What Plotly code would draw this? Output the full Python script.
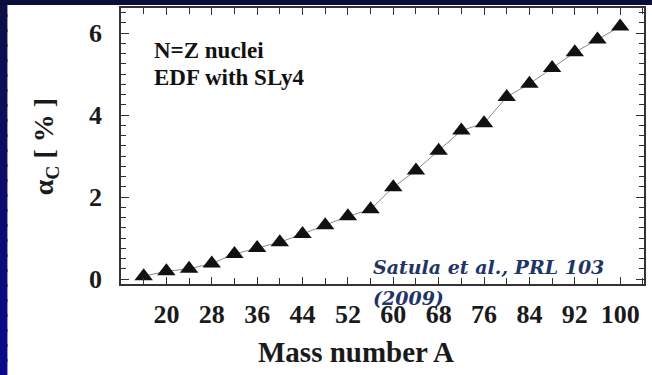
import plotly.graph_objects as go

# Isospin-breaking correction alpha_C (%) for N=Z nuclei, EDF with SLy4
mass_number = [16, 20, 24, 28, 32, 36, 40, 44, 48, 52, 56,
               60, 64, 68, 72, 76, 80, 84, 88, 92, 96, 100]
alpha_c = [0.07, 0.19, 0.25, 0.38, 0.61, 0.76, 0.90, 1.10, 1.31, 1.53, 1.70,
           2.24, 2.65, 3.13, 3.62, 3.80, 4.44, 4.76, 5.15, 5.53, 5.84, 6.16]

x_tick_labels = [20, 28, 36, 44, 52, 60, 68, 76, 84, 92, 100]
y_tick_labels = [0, 2, 4, 6]

W, H = 652, 375
ML, MR, MT, MB = 121, 6, 8, 91
PW, PH = W - ML - MR, H - MT - MB


def px_x(p):
    return (p - ML) / PW


def px_y(p):
    return (H - MB - p) / PH


SERIF = "Liberation Serif, Times New Roman, serif"
CITE = "DejaVu Serif, serif"

fig = go.Figure()
fig.add_trace(go.Scatter(
    x=mass_number, y=alpha_c,
    mode="lines+markers",
    line=dict(color="#8a8a8a", width=1),
    marker=dict(symbol="triangle-up", size=16, color="#111111",
                line=dict(width=0)),
    showlegend=False,
))

axis_common = dict(
    showline=True, mirror="ticks", linecolor="#333333", linewidth=1.5,
    ticks="inside", tickcolor="#333333", tickwidth=1.2,
    showgrid=False, zeroline=False,
    tickfont=dict(family=SERIF, size=26, color="#1a1a1a", weight="bold"),
)

fig.update_xaxes(
    range=[12, 104.2],
    tickvals=x_tick_labels, ticktext=[str(v) for v in x_tick_labels],
    ticklen=7, ticklabelstandoff=6,
    minor=dict(dtick=4, tick0=0, ticklen=6, tickcolor="#333333", ticks="inside"),
    **axis_common,
)
fig.update_yaxes(
    range=[-0.12, 6.61],
    tickvals=y_tick_labels, ticktext=[str(v) for v in y_tick_labels],
    ticklen=8, ticklabelstandoff=12,
    minor=dict(dtick=0.25, tick0=0, ticklen=5, tickcolor="#333333", ticks="inside"),
    **axis_common,
)

# dark slide frame: top strip and left gradient strip
shapes = []
n = 25
top_rgb = (12, 16, 70)
bot_rgb = (10, 10, 140)
for i in range(n):
    t = i / (n - 1)
    c = tuple(int(round(a + (b - a) * t)) for a, b in zip(top_rgb, bot_rgb))
    shapes.append(dict(type="rect", xref="paper", yref="paper",
                       x0=px_x(-2), x1=px_x(7),
                       y0=px_y(H * (i + 1) / n + 2), y1=px_y(H * i / n - 1),
                       fillcolor="rgb(%d,%d,%d)" % c, line=dict(width=0),
                       layer="above"))
shapes.append(dict(type="rect", xref="paper", yref="paper",
                   x0=px_x(-2), x1=px_x(W + 2), y0=px_y(5), y1=px_y(-2),
                   fillcolor="#0a0e3c", line=dict(width=0), layer="above"))

annotations = [
    dict(text="N=Z nuclei", x=px_x(152), y=px_y(50), xanchor="left", yanchor="middle",
         font=dict(family=SERIF, size=23, color="#111111", weight="bold")),
    dict(text="EDF with SLy4", x=px_x(152), y=px_y(77), xanchor="left", yanchor="middle",
         font=dict(family=SERIF, size=23, color="#111111", weight="bold")),
    dict(text="Mass number A", x=px_x(357), y=px_y(352), xanchor="center", yanchor="middle",
         font=dict(family=SERIF, size=29, color="#1a1a1a", weight="bold")),
    dict(text="α<sub>C</sub> [ % ]", x=px_x(45), y=px_y(147), textangle=-90,
         xanchor="center", yanchor="middle",
         font=dict(family=SERIF, size=28, color="#1a1a1a", weight="bold")),
    dict(text="<i>Satula et al., PRL 103</i>", x=px_x(372), y=px_y(267),
         xanchor="left", yanchor="middle",
         font=dict(family=CITE, size=19, color="#1f3566", weight="bold")),
    dict(text="<i>(2009)</i>", x=px_x(372), y=px_y(298),
         xanchor="left", yanchor="middle",
         font=dict(family=CITE, size=19, color="#1f3566", weight="bold")),
]
for a in annotations:
    a.update(xref="paper", yref="paper", showarrow=False)

fig.update_layout(
    width=W, height=H,
    margin=dict(l=ML, r=MR, t=MT, b=MB),
    paper_bgcolor="white", plot_bgcolor="white",
    shapes=shapes, annotations=annotations,
)

fig.write_html("out.html")
